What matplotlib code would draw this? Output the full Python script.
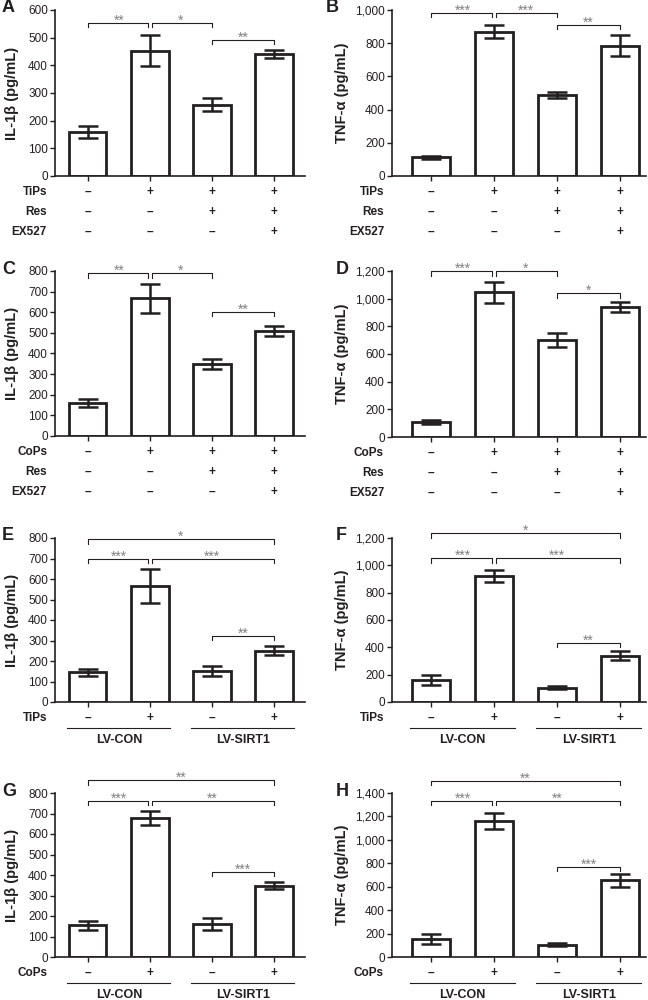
import matplotlib
matplotlib.use("Agg")
import matplotlib.pyplot as plt
from matplotlib.ticker import FuncFormatter
from matplotlib.transforms import ScaledTranslation

plt.rcParams['font.family'] = ['Liberation Sans', 'DejaVu Sans']

INK = '#231f20'
STAR = '#808080'

# bar values (mean, error)
a_means = [160, 453, 258, 440]
a_err = [21, 56, 23, 15]
b_means = [112, 869, 486, 785]
b_err = [8, 40, 18, 62]
c_means = [159, 667, 349, 509]
c_err = [20, 72, 23, 22]
d_means = [111, 1046, 701, 938]
d_err = [14, 76, 48, 36]
e_means = [145, 566, 153, 249]
e_err = [16, 83, 24, 22]
f_means = [161, 922, 105, 339]
f_err = [40, 47, 10, 34]
g_means = [156, 677, 161, 348]
g_err = [22, 35, 29, 18]
h_means = [151, 1161, 105, 655]
h_err = [43, 67, 12, 54]

# significance brackets: (left bar, right bar, level, label)
a_sig = [(0, 1, 553, '**'), (1, 2, 553, '*'), (2, 3, 492, '**')]
b_sig = [(0, 1, 984, '***'), (1, 2, 984, '***'), (2, 3, 910, '**')]
c_sig = [(0, 1, 790, '**'), (1, 2, 790, '*'), (2, 3, 603, '**')]
d_sig = [(0, 1, 1197, '***'), (1, 2, 1197, '*'), (2, 3, 1039, '*')]
e_sig = [(0, 3, 794, '*'), (0, 1, 698, '***'), (1, 3, 698, '***'), (2, 3, 322, '**')]
f_sig = [(0, 3, 1234, '*'), (0, 1, 1051, '***'), (1, 3, 1051, '***'), (2, 3, 434, '**')]
g_sig = [(0, 3, 863, '**'), (0, 1, 762, '***'), (1, 3, 762, '**'), (2, 3, 416, '***')]
h_sig = [(0, 3, 1502, '**'), (0, 1, 1334, '***'), (1, 3, 1334, '**'), (2, 3, 771, '***')]

# treatment rows under the bars
rows_ti = [('TiPs', ['–', '+', '+', '+']), ('Res', ['–', '–', '+', '+']), ('EX527', ['–', '–', '–', '+'])]
rows_co = [('CoPs', ['–', '+', '+', '+']), ('Res', ['–', '–', '+', '+']), ('EX527', ['–', '–', '–', '+'])]
rows_ti_lv = [('TiPs', ['–', '+', '–', '+'])]
rows_co_lv = [('CoPs', ['–', '+', '–', '+'])]
groups = ['LV-CON', 'LV-SIRT1']

il_label = 'IL-1β (pg/mL)'
tnf_label = 'TNF-α (pg/mL)'

W, H = 648, 1000
fig = plt.figure(figsize=(W / 100, H / 100), dpi=100)


def px_axes(x0, x1, ytop, ybot):
    return fig.add_axes([x0 / W, 1 - ybot / H, (x1 - x0) / W, (ybot - ytop) / H])


def comma(v, pos):
    return f'{int(v):,}'


def panel(letter, box, xlim, means, err, ymax, ystep, ylabel, sig, rows, lv=False, left=True):
    x0, x1, ytop, ybot = box
    ax = px_axes(x0, x1, ytop, ybot)
    xs = list(range(len(means)))
    ax.bar(xs, means, width=0.6, color='white', edgecolor=INK, linewidth=2.0, zorder=2)
    ax.errorbar(xs, means, yerr=err, fmt='none', ecolor=INK, elinewidth=1.8,
                capsize=7, capthick=1.8, zorder=3)
    ax.set_xlim(*xlim)
    ax.set_ylim(0, ymax)
    ax.set_yticks(range(0, ymax + 1, ystep))
    ax.yaxis.set_major_formatter(FuncFormatter(comma))
    ax.set_xticks(xs)
    ax.set_xticklabels([])
    for s in ['top', 'right']:
        ax.spines[s].set_visible(False)
    for s in ['left', 'bottom']:
        ax.spines[s].set_linewidth(1.2)
        ax.spines[s].set_color(INK)
    ax.tick_params(axis='y', length=3.5, width=1.0, pad=1.5, labelsize=8.5, colors=INK)
    ax.tick_params(axis='x', length=3.5, width=1.0, colors=INK)

    # brackets
    tick = 0.027 * ymax
    for i, j, lvl, lab in sig:
        l = i + (0.03 if any(s[1] == i and s[2] == lvl for s in sig) else 0)
        r = j - (0.03 if any(s[0] == j and s[2] == lvl for s in sig) else 0)
        ax.plot([l, l, r, r], [lvl - tick, lvl, lvl, lvl - tick], color=INK,
                lw=0.8, clip_on=False, zorder=4)
        ax.annotate(lab, xy=((i + j) / 2, lvl), xytext=(0, -3.5), textcoords='offset points',
                    ha='center', va='bottom', fontsize=10, color=STAR, annotation_clip=False)

    # treatment rows
    lab_x = x0 - 8
    offs = [16, 36, 56]
    for k, (name, signs) in enumerate(rows):
        yp = ybot + offs[k]
        fig.text(lab_x / W, 1 - yp / H, name, ha='right', va='center',
                 fontsize=8.5, fontweight='bold', color=INK)
        for xi, sg in enumerate(signs):
            ax.annotate(sg, xy=(xi, 0), xycoords=('data', 'axes fraction'),
                        xytext=(0, -offs[k] * 0.72), textcoords='offset points',
                        ha='center', va='center', fontsize=8.5, fontweight='bold', color=INK,
                        annotation_clip=False)
    if lv:
        shift = ax.get_xaxis_transform() + ScaledTranslation(0, -26 / 100, fig.dpi_scale_trans)
        for gi, gname in enumerate(groups):
            c0 = gi * 2
            ax.plot([c0 - 0.33, c0 + 1.33], [0, 0], transform=shift,
                    color=INK, lw=0.8, clip_on=False)
            ax.annotate(gname, xy=(c0 + 0.5, 0), xycoords=('data', 'axes fraction'),
                        xytext=(0, -38 * 0.72), textcoords='offset points',
                        ha='center', va='center', fontsize=9, fontweight='bold', color=INK,
                        annotation_clip=False)

    # y label and panel letter
    lx = 12 if left else 342
    fig.text(lx / W, 1 - (ytop + ybot) / 2 / H, ylabel, rotation=90, ha='center', va='center',
             fontsize=10.5, fontweight='bold', color=INK)
    letx = 2 if left else (326 if letter == 'B' else 336)
    fig.text(letx / W, 1 - (ytop - 2) / H, letter, ha='left', va='center',
             fontsize=13, fontweight='bold', color=INK)
    return ax


LX = (-0.53, 3.50)
RX = (-0.62, 3.41)

panel('A', (55, 305, 10, 176), LX, a_means, a_err, 600, 100, il_label, a_sig, rows_ti)
panel('B', (392, 646, 10, 176), RX, b_means, b_err, 1000, 200, tnf_label, b_sig, rows_ti, left=False)
panel('C', (55, 305, 271, 436), LX, c_means, c_err, 800, 100, il_label, c_sig, rows_co)
panel('D', (392, 646, 271, 437), RX, d_means, d_err, 1200, 200, tnf_label, d_sig, rows_co, left=False)
panel('E', (55, 305, 538, 702), LX, e_means, e_err, 800, 100, il_label, e_sig, rows_ti_lv, lv=True)
panel('F', (392, 646, 538, 702), RX, f_means, f_err, 1200, 200, tnf_label, f_sig, rows_ti_lv, lv=True, left=False)
panel('G', (55, 305, 793, 957), LX, g_means, g_err, 800, 100, il_label, g_sig, rows_co_lv, lv=True)
panel('H', (392, 646, 793, 957), RX, h_means, h_err, 1400, 200, tnf_label, h_sig, rows_co_lv, lv=True, left=False)

fig.savefig('out.png', dpi=100)
